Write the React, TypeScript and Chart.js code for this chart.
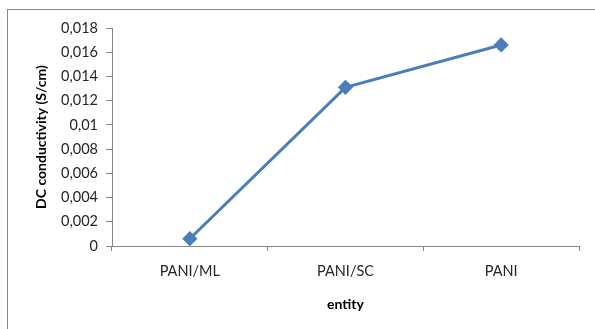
import React, { useEffect, useRef } from "react";
import { Chart, registerables } from "chart.js";

Chart.register(...registerables);

const categories = ["PANI/ML", "PANI/SC", "PANI"];
const conductivity = [0.0006, 0.0131, 0.0166];
const yMin = 0;
const yMax = 0.018;
const yStep = 0.002;

const FONT = "Lato, 'Open Sans', sans-serif";
const AXIS_GREY = "#868686";

// Thin frame around the chart, open on the right and bottom edges of the canvas
const framePlugin = {
  id: "frame",
  beforeDraw(chart: Chart) {
    const { ctx } = chart;
    ctx.save();
    ctx.strokeStyle = AXIS_GREY;
    ctx.lineWidth = 1;
    ctx.strokeRect(7.5, 9.5, 700, 400);
    ctx.restore();
  },
};

const formatTick = (v: number | string) => {
  const n = typeof v === "number" ? v : parseFloat(v);
  return String(parseFloat(n.toFixed(3))).replace(".", ",");
};

export default function App() {
  const canvasRef = useRef<HTMLCanvasElement | null>(null);

  useEffect(() => {
    if (!canvasRef.current) return;
    const chart = new Chart(canvasRef.current, {
      type: "line",
      data: {
        labels: categories,
        datasets: [
          {
            data: conductivity,
            borderColor: "#4a7ebb",
            backgroundColor: "#4a7ebb",
            borderWidth: 3,
            pointStyle: "rectRot",
            pointRadius: 5.5,
            pointHoverRadius: 5.5,
            tension: 0,
          },
        ],
      },
      options: {
        animation: false,
        responsive: false,
        maintainAspectRatio: false,
        layout: { padding: { left: 8, top: 28, right: 16, bottom: 0 } },
        plugins: {
          legend: { display: false },
          tooltip: { enabled: false },
        },
        scales: {
          x: {
            offset: true,
            grid: {
              offset: true,
              drawOnChartArea: false,
              drawTicks: true,
              tickLength: 5,
              color: AXIS_GREY,
            },
            border: { color: AXIS_GREY, width: 1 },
            ticks: {
              color: "#262626",
              font: { family: FONT, size: 14.5 },
              padding: 12,
              maxRotation: 0,
            },
            title: {
              display: true,
              text: "entity",
              color: "#000",
              font: { family: FONT, size: 14, weight: "bold" },
              padding: { top: 0, bottom: 16 },
            },
            afterFit(scale: any) {
              scale.height = 83;
            },
          },
          y: {
            min: yMin,
            max: yMax,
            grid: {
              drawOnChartArea: false,
              drawTicks: true,
              tickLength: 6,
              color: AXIS_GREY,
            },
            border: { color: AXIS_GREY, width: 1 },
            ticks: {
              stepSize: yStep,
              color: "#262626",
              font: { family: FONT, size: 14.5 },
              padding: 8,
              callback: (v: any) => formatTick(v),
            },
            title: {
              display: true,
              text: "DC conductivity (S/cm)",
              color: "#000",
              font: { family: FONT, size: 14, weight: "bold" },
              padding: { top: 25, bottom: 0 },
            },
            afterFit(scale: any) {
              scale.width = 104;
            },
          },
        },
      },
      plugins: [framePlugin],
    });
    return () => chart.destroy();
  }, []);

  return (
    <div style={{ position: "fixed", left: 0, top: 0, width: 595, height: 329, background: "#fff" }}>
      <canvas ref={canvasRef} width={595} height={329} style={{ display: "block" }} />
    </div>
  );
}
